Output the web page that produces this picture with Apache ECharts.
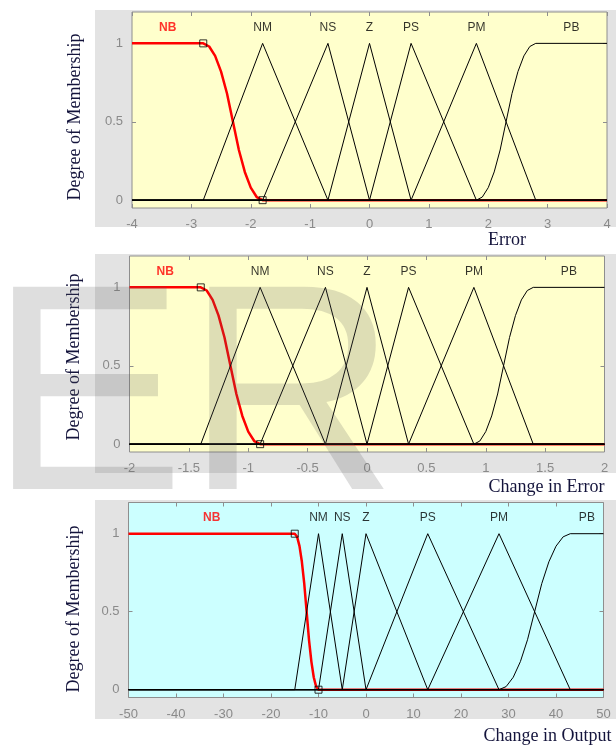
<!DOCTYPE html>
<html>
<head>
<meta charset="utf-8">
<script src="https://cdn.jsdelivr.net/npm/echarts@6/dist/echarts.min.js"></script>
<style>
  html, body { margin: 0; padding: 0; background: #ffffff; }
  #chart { width: 616px; height: 746px; }
</style>
</head>
<body>
<div id="chart"></div>
<script>
// Fuzzy membership functions: Error, Change in Error and Change in Output.
const mfNames = ['NB', 'NM', 'NS', 'Z', 'PS', 'PM', 'PB'];
const yTicks = [0, 0.5, 1];
const yRange = [-0.05, 1.2];
const labelY = 1.1;

// Error, universe [-4, 4]
const errRange = [-4, 4];
const errStep = 1;
const errNB = [[-4, 1], [-2.8, 1], [-2.7, 0.98], [-2.6, 0.92], [-2.5, 0.82], [-2.4, 0.68], [-2.3, 0.5],
               [-2.2, 0.32], [-2.1, 0.18], [-2.0, 0.08], [-1.9, 0.02], [-1.8, 0], [4, 0]];
const errNM = [[-4, 0], [-2.8, 0], [-1.8, 1], [-0.7, 0], [4, 0]];
const errNS = [[-4, 0], [-1.8, 0], [-0.7, 1], [0, 0], [4, 0]];
const errZ  = [[-4, 0], [-0.7, 0], [0, 1], [0.7, 0], [4, 0]];
const errPS = [[-4, 0], [0, 0], [0.7, 1], [1.8, 0], [4, 0]];
const errPM = [[-4, 0], [0.7, 0], [1.8, 1], [2.8, 0], [4, 0]];
const errPB = [[-4, 0], [1.8, 0], [1.9, 0.02], [2.0, 0.08], [2.1, 0.18], [2.2, 0.32], [2.3, 0.5],
               [2.4, 0.68], [2.5, 0.82], [2.6, 0.92], [2.7, 0.98], [2.8, 1], [4, 1]];
const errLabelX = [-3.4, -1.8, -0.7, 0, 0.7, 1.8, 3.4];

// Change in error, universe [-2, 2]
const ceRange = [-2, 2];
const ceStep = 0.5;
const ceNB = [[-2, 1], [-1.4, 1], [-1.35, 0.98], [-1.3, 0.92], [-1.25, 0.82], [-1.2, 0.68], [-1.15, 0.5],
              [-1.1, 0.32], [-1.05, 0.18], [-1.0, 0.08], [-0.95, 0.02], [-0.9, 0], [2, 0]];
const ceNM = [[-2, 0], [-1.4, 0], [-0.9, 1], [-0.35, 0], [2, 0]];
const ceNS = [[-2, 0], [-0.9, 0], [-0.35, 1], [0, 0], [2, 0]];
const ceZ  = [[-2, 0], [-0.35, 0], [0, 1], [0.35, 0], [2, 0]];
const cePS = [[-2, 0], [0, 0], [0.35, 1], [0.9, 0], [2, 0]];
const cePM = [[-2, 0], [0.35, 0], [0.9, 1], [1.4, 0], [2, 0]];
const cePB = [[-2, 0], [0.9, 0], [0.95, 0.02], [1.0, 0.08], [1.05, 0.18], [1.1, 0.32], [1.15, 0.5],
              [1.2, 0.68], [1.25, 0.82], [1.3, 0.92], [1.35, 0.98], [1.4, 1], [2, 1]];
const ceLabelX = [-1.7, -0.9, -0.35, 0, 0.35, 0.9, 1.7];

// Change in output, universe [-50, 50]
const outRange = [-50, 50];
const outStep = 10;
const outNB = [[-50, 1], [-15, 1], [-14.5, 0.98], [-14, 0.92], [-13.5, 0.82], [-13, 0.68], [-12.5, 0.5],
               [-12, 0.32], [-11.5, 0.18], [-11, 0.08], [-10.5, 0.02], [-10, 0], [50, 0]];
const outNM = [[-50, 0], [-15, 0], [-10, 1], [-5, 0], [50, 0]];
const outNS = [[-50, 0], [-10, 0], [-5, 1], [0, 0], [50, 0]];
const outZ  = [[-50, 0], [-5, 0], [0, 1], [13, 0], [50, 0]];
const outPS = [[-50, 0], [0, 0], [13, 1], [28, 0], [50, 0]];
const outPM = [[-50, 0], [13, 0], [28, 1], [43, 0], [50, 0]];
const outPB = [[-50, 0], [28, 0], [29.5, 0.02], [31, 0.08], [32.5, 0.18], [34, 0.32], [35.5, 0.5],
               [37, 0.68], [38.5, 0.82], [40, 0.92], [41.5, 0.98], [43, 1], [50, 1]];
const outLabelX = [-32.5, -10, -5, 0, 13, 28, 46.5];

const panels = [
  { range: errRange, step: errStep, mfs: [errNB, errNM, errNS, errZ, errPS, errPM, errPB], labelX: errLabelX,
    grid: { left: 132, top: 12, width: 475, height: 196 }, bg: '#ffffcc', labelMargin: 10 },
  { range: ceRange, step: ceStep, mfs: [ceNB, ceNM, ceNS, ceZ, cePS, cePM, cePB], labelX: ceLabelX,
    grid: { left: 129.5, top: 256, width: 475, height: 196 }, bg: '#ffffcc', labelMargin: 9.5 },
  { range: outRange, step: outStep, mfs: [outNB, outNM, outNS, outZ, outPS, outPM, outPB], labelX: outLabelX,
    grid: { left: 128.5, top: 502.5, width: 475, height: 195 }, bg: '#ccffff', labelMargin: 10 }
];

const boxColor = '#8e8e8e';
const tickLabelColor = '#8a8a8a';
const titleColor = '#14143c';
const tickFont = { fontFamily: 'Liberation Sans, Arial, sans-serif', fontSize: 13, color: tickLabelColor };

const grids = [], xAxes = [], yAxes = [], series = [];

panels.forEach((p, i) => {
  grids.push(Object.assign({ show: true, backgroundColor: p.bg, borderColor: boxColor, borderWidth: 1 }, p.grid));

  const xBase = {
    type: 'value', gridIndex: i, min: p.range[0], max: p.range[1], interval: p.step,
    splitLine: { show: false }, axisLine: { show: false, onZero: false },
    axisTick: { inside: true, length: 4, lineStyle: { color: boxColor } }
  };
  xAxes.push(Object.assign({}, xBase, {
    position: 'bottom',
    axisLabel: Object.assign({ margin: p.labelMargin }, tickFont)
  }));
  xAxes.push(Object.assign({}, xBase, { position: 'top', axisLabel: { show: false } }));

  const yBase = {
    type: 'value', gridIndex: i, min: yRange[0], max: yRange[1],
    splitLine: { show: false }, axisLine: { show: false, onZero: false },
    axisTick: { inside: true, length: 4, customValues: yTicks, lineStyle: { color: boxColor } }
  };
  yAxes.push(Object.assign({}, yBase, {
    position: 'left',
    axisLabel: Object.assign({ margin: 9, customValues: yTicks }, tickFont)
  }));
  yAxes.push(Object.assign({}, yBase, { position: 'right', axisLabel: { show: false } }));

  const xi = i * 2, yi = i * 2;

  // selected set (NB) in red, drawn beneath the others
  series.push({
    type: 'line', name: mfNames[0], xAxisIndex: xi, yAxisIndex: yi, data: p.mfs[0],
    showSymbol: false, z: 2, lineStyle: { color: '#ff0000', width: 2.5 }, silent: true
  });
  for (let k = 1; k < p.mfs.length; k++) {
    series.push({
      type: 'line', name: mfNames[k], xAxisIndex: xi, yAxisIndex: yi, data: p.mfs[k],
      showSymbol: false, z: 3, lineStyle: { color: '#000000', width: 1 }, silent: true
    });
  }
  // knot markers of the selected set
  const nb = p.mfs[0];
  series.push({
    type: 'scatter', xAxisIndex: xi, yAxisIndex: yi, z: 4, silent: true,
    symbol: 'rect', symbolSize: 7,
    itemStyle: { color: 'rgba(0,0,0,0)', borderColor: '#000000', borderWidth: 1 },
    data: [nb[1], nb[nb.length - 2]]
  });
  // set names above each function
  series.push({
    type: 'scatter', xAxisIndex: xi, yAxisIndex: yi, z: 5, silent: true,
    symbolSize: 0,
    label: { show: true, position: 'inside', formatter: '{b}',
             fontFamily: 'Liberation Sans, Arial, sans-serif', fontSize: 12 },
    data: mfNames.map((n, k) => ({
      name: n, value: [p.labelX[k], labelY],
      label: { color: k === 0 ? '#ff0000' : '#000000', fontWeight: k === 0 ? 'bold' : 'normal' }
    }))
  });
});

const serif = '18px "Liberation Serif", "Times New Roman", serif';
const graphics = [
  { type: 'rect', z: -1, shape: { x: 95, y: 10, width: 521, height: 217 }, style: { fill: '#e3e3e3' } },
  { type: 'rect', z: -1, shape: { x: 95, y: 254, width: 521, height: 219 }, style: { fill: '#e3e3e3' } },
  { type: 'rect', z: -1, shape: { x: 95, y: 500, width: 521, height: 219 }, style: { fill: '#e3e3e3' } },
  { type: 'text', x: 75, y: 117, rotation: Math.PI / 2,
    style: { text: 'Degree of Membership', font: serif, fill: titleColor, align: 'center', verticalAlign: 'middle' } },
  { type: 'text', x: 74, y: 357, rotation: Math.PI / 2,
    style: { text: 'Degree of Membership', font: serif, fill: titleColor, align: 'center', verticalAlign: 'middle' } },
  { type: 'text', x: 74, y: 609, rotation: Math.PI / 2,
    style: { text: 'Degree of Membership', font: serif, fill: titleColor, align: 'center', verticalAlign: 'middle' } },
  { type: 'text', x: 507, y: 240,
    style: { text: 'Error', font: serif, fill: titleColor, align: 'center', verticalAlign: 'middle' } },
  { type: 'text', x: 546.5, y: 487,
    style: { text: 'Change in Error', font: serif, fill: titleColor, align: 'center', verticalAlign: 'middle' } },
  { type: 'text', x: 547.5, y: 736,
    style: { text: 'Change in Output', font: serif, fill: titleColor, align: 'center', verticalAlign: 'middle' } },
  { type: 'text', z: 100, x: -11, y: 408, silent: true,
    style: { text: 'ER', font: '294px "Liberation Sans", Arial, sans-serif', fill: 'rgba(90,90,90,0.2)',
             align: 'left', verticalAlign: 'middle' } }
];

const chart = echarts.init(document.getElementById('chart'), null, { renderer: 'canvas' });
chart.setOption({
  animation: false,
  backgroundColor: '#ffffff',
  grid: grids,
  xAxis: xAxes,
  yAxis: yAxes,
  series: series,
  graphic: { elements: graphics }
});
</script>
</body>
</html>
